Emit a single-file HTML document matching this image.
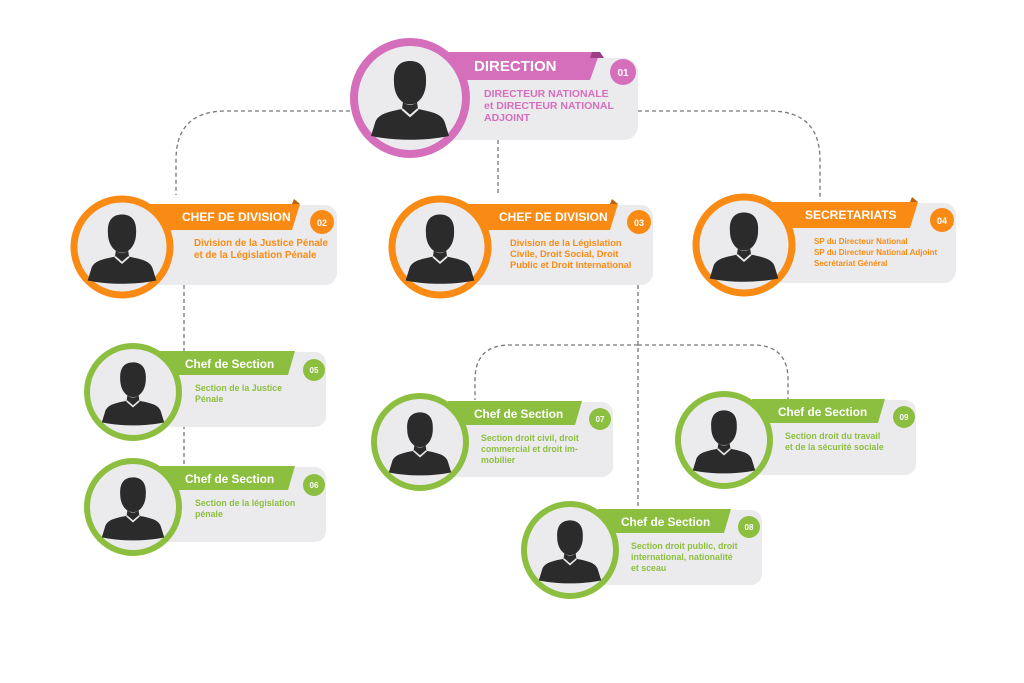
<!DOCTYPE html>
<html><head><meta charset="utf-8"><style>
html,body{margin:0;padding:0;background:#fff;}
svg{display:block;font-family:"Liberation Sans",sans-serif;font-weight:bold;}
</style></head><body>
<svg width="1024" height="683" viewBox="0 0 1024 683" xmlns="http://www.w3.org/2000/svg">
<defs>
<symbol id="p" viewBox="-1 -1 2 2">
<path d="M-0.32,-0.32 C-0.34,-0.64 -0.18,-0.74 0,-0.74 C0.18,-0.74 0.34,-0.64 0.32,-0.32 C0.32,-0.04 0.16,0.13 0,0.13 C-0.16,0.13 -0.32,-0.04 -0.32,-0.32 Z" fill="#2b2b2b"/>
<path d="M-0.14,0.08 L-0.16,0.22 C-0.45,0.28 -0.65,0.32 -0.7,0.5 L-0.78,0.76 C-0.3,0.86 0.3,0.86 0.78,0.76 L0.7,0.5 C0.65,0.32 0.45,0.28 0.16,0.22 L0.14,0.08 C0.05,0.16 -0.05,0.16 -0.14,0.08 Z" fill="#2b2b2b"/>
<path d="M-0.16,0.22 L0,0.36 L0.16,0.22" fill="none" stroke="#ebebee" stroke-width="0.04"/>
</symbol>
</defs>
<g fill="none" stroke="#777" stroke-width="1.3" stroke-dasharray="4,3">
<path d="M350,111 H226 Q176,111 176,160 V195"/>
<path d="M498,140 V195"/>
<path d="M638,111 H770 Q820,111 820,160 V200"/>
<path d="M184,285 V467"/>
<path d="M638,285 V510"/>
<path d="M638,345 H510 Q475,345 475,380 V400"/>
<path d="M638,345 H753 Q788,345 788,380 V400"/>
</g>

<!-- Direction -->
<rect x="410" y="58" width="228" height="82" rx="14" fill="#ebebee"/>
<path d="M440,52 H600 L590,80 H440 Z" fill="#d56fbb"/>
<path d="M592,52 L600,52 L604,58 L590,58 Z" fill="#9c3f86"/>
<circle cx="410" cy="98" r="56" fill="#ebebee" stroke="#d56fbb" stroke-width="8"/>
<use href="#p" x="360" y="48" width="100" height="100"/>
<text x="474" y="71" fill="#fff" font-size="15">DIRECTION</text>
<circle cx="623" cy="72" r="13" fill="#d56fbb"/>
<text x="623" y="76" fill="#fff" font-size="10" text-anchor="middle">01</text>
<g fill="#d56fbb" font-size="10.5"><text x="484" y="97">DIRECTEUR NATIONALE</text><text x="484" y="109">et DIRECTEUR NATIONAL</text><text x="484" y="121">ADJOINT</text></g>

<!-- Orange nodes -->
<g>
<rect x="130" y="205" width="207" height="80" rx="12" fill="#ebebee"/>
<path d="M150,204 H300 L292,230 H150 Z" fill="#f98b14"/>
<path d="M294,199 L300,204 L292,204 Z" fill="#c0600a"/>
<circle cx="122" cy="247" r="48" fill="#ebebee" stroke="#f98b14" stroke-width="7"/>
<use href="#p" x="78" y="203" width="88" height="88"/>
<circle cx="322" cy="222" r="12" fill="#f98b14"/>
<text x="322" y="226" fill="#fff" font-size="9" text-anchor="middle">02</text>
<text x="182" y="221" fill="#fff" font-size="12">CHEF DE DIVISION</text>
<g fill="#f98b14" font-size="9.8"><text x="194" y="246">Division de la Justice Pénale</text><text x="194" y="258">et de la Législation Pénale</text></g>
</g>
<g>
<rect x="448" y="205" width="205" height="80" rx="12" fill="#ebebee"/>
<path d="M468,204 H618 L610,230 H468 Z" fill="#f98b14"/>
<path d="M612,199 L618,204 L610,204 Z" fill="#c0600a"/>
<circle cx="440" cy="247" r="48" fill="#ebebee" stroke="#f98b14" stroke-width="7"/>
<use href="#p" x="396" y="203" width="88" height="88"/>
<circle cx="639" cy="222" r="12" fill="#f98b14"/>
<text x="639" y="226" fill="#fff" font-size="9" text-anchor="middle">03</text>
<text x="499" y="221" fill="#fff" font-size="12">CHEF DE DIVISION</text>
<g fill="#f98b14" font-size="9.3"><text x="510" y="246">Division de la Législation</text><text x="510" y="257">Civile, Droit Social, Droit</text><text x="510" y="268">Public et Droit International</text></g>
</g>
<g>
<rect x="752" y="203" width="204" height="80" rx="12" fill="#ebebee"/>
<path d="M772,202 H918 L910,228 H772 Z" fill="#f98b14"/>
<path d="M912,197 L918,202 L910,202 Z" fill="#c0600a"/>
<circle cx="744" cy="245" r="48" fill="#ebebee" stroke="#f98b14" stroke-width="7"/>
<use href="#p" x="700" y="201" width="88" height="88"/>
<circle cx="942" cy="220" r="12" fill="#f98b14"/>
<text x="942" y="224" fill="#fff" font-size="9" text-anchor="middle">04</text>
<text x="805" y="219" fill="#fff" font-size="12">SECRETARIATS</text>
<g fill="#f98b14" font-size="8"><text x="814" y="244">SP du Directeur National</text><text x="814" y="255">SP du Directeur National Adjoint</text><text x="814" y="266">Secrétariat Général</text></g>
</g>

<!-- Green nodes -->
<g font-size="8.8">
<g>
<rect x="140" y="352" width="186" height="75" rx="11" fill="#ebebee"/>
<path d="M160,351 H295 L288,375 H160 Z" fill="#8cbf3f"/>
<circle cx="133" cy="392" r="46" fill="#ebebee" stroke="#8cbf3f" stroke-width="6"/>
<use href="#p" x="93" y="352" width="80" height="80"/>
<circle cx="314" cy="370" r="11" fill="#8cbf3f"/>
<text x="314" y="373" fill="#fff" font-size="8" text-anchor="middle">05</text>
<text x="185" y="368" fill="#fff" font-size="11.8">Chef de Section</text>
<text x="195" y="391" fill="#8cbf3f">Section de la Justice</text><text x="195" y="402" fill="#8cbf3f">Pénale</text>
</g>
<g>
<rect x="140" y="467" width="186" height="75" rx="11" fill="#ebebee"/>
<path d="M160,466 H295 L288,490 H160 Z" fill="#8cbf3f"/>
<circle cx="133" cy="507" r="46" fill="#ebebee" stroke="#8cbf3f" stroke-width="6"/>
<use href="#p" x="93" y="467" width="80" height="80"/>
<circle cx="314" cy="485" r="11" fill="#8cbf3f"/>
<text x="314" y="488" fill="#fff" font-size="8" text-anchor="middle">06</text>
<text x="185" y="483" fill="#fff" font-size="11.8">Chef de Section</text>
<text x="195" y="506" fill="#8cbf3f">Section de la législation</text><text x="195" y="517" fill="#8cbf3f">pénale</text>
</g>
<g>
<rect x="428" y="402" width="185" height="75" rx="11" fill="#ebebee"/>
<path d="M448,401 H582 L575,425 H448 Z" fill="#8cbf3f"/>
<circle cx="420" cy="442" r="46" fill="#ebebee" stroke="#8cbf3f" stroke-width="6"/>
<use href="#p" x="380" y="402" width="80" height="80"/>
<circle cx="600" cy="419" r="11" fill="#8cbf3f"/>
<text x="600" y="422" fill="#fff" font-size="8" text-anchor="middle">07</text>
<text x="474" y="418" fill="#fff" font-size="11.8">Chef de Section</text>
<text x="481" y="441" fill="#8cbf3f">Section droit civil, droit</text><text x="481" y="452" fill="#8cbf3f">commercial et droit im-</text><text x="481" y="463" fill="#8cbf3f">mobilier</text>
</g>
<g>
<rect x="732" y="400" width="184" height="75" rx="11" fill="#ebebee"/>
<path d="M752,399 H885 L878,423 H752 Z" fill="#8cbf3f"/>
<circle cx="724" cy="440" r="46" fill="#ebebee" stroke="#8cbf3f" stroke-width="6"/>
<use href="#p" x="684" y="400" width="80" height="80"/>
<circle cx="904" cy="417" r="11" fill="#8cbf3f"/>
<text x="904" y="420" fill="#fff" font-size="8" text-anchor="middle">09</text>
<text x="778" y="416" fill="#fff" font-size="11.8">Chef de Section</text>
<text x="785" y="439" fill="#8cbf3f">Section droit du travail</text><text x="785" y="450" fill="#8cbf3f">et de la sécurité sociale</text>
</g>
<g>
<rect x="578" y="510" width="184" height="75" rx="11" fill="#ebebee"/>
<path d="M598,509 H731 L724,533 H598 Z" fill="#8cbf3f"/>
<circle cx="570" cy="550" r="46" fill="#ebebee" stroke="#8cbf3f" stroke-width="6"/>
<use href="#p" x="530" y="510" width="80" height="80"/>
<circle cx="749" cy="527" r="11" fill="#8cbf3f"/>
<text x="749" y="530" fill="#fff" font-size="8" text-anchor="middle">08</text>
<text x="621" y="526" fill="#fff" font-size="11.8">Chef de Section</text>
<text x="631" y="549" fill="#8cbf3f">Section droit public, droit</text><text x="631" y="560" fill="#8cbf3f">international, nationalité</text><text x="631" y="571" fill="#8cbf3f">et sceau</text>
</g>
</g>
</svg>
</body></html>
